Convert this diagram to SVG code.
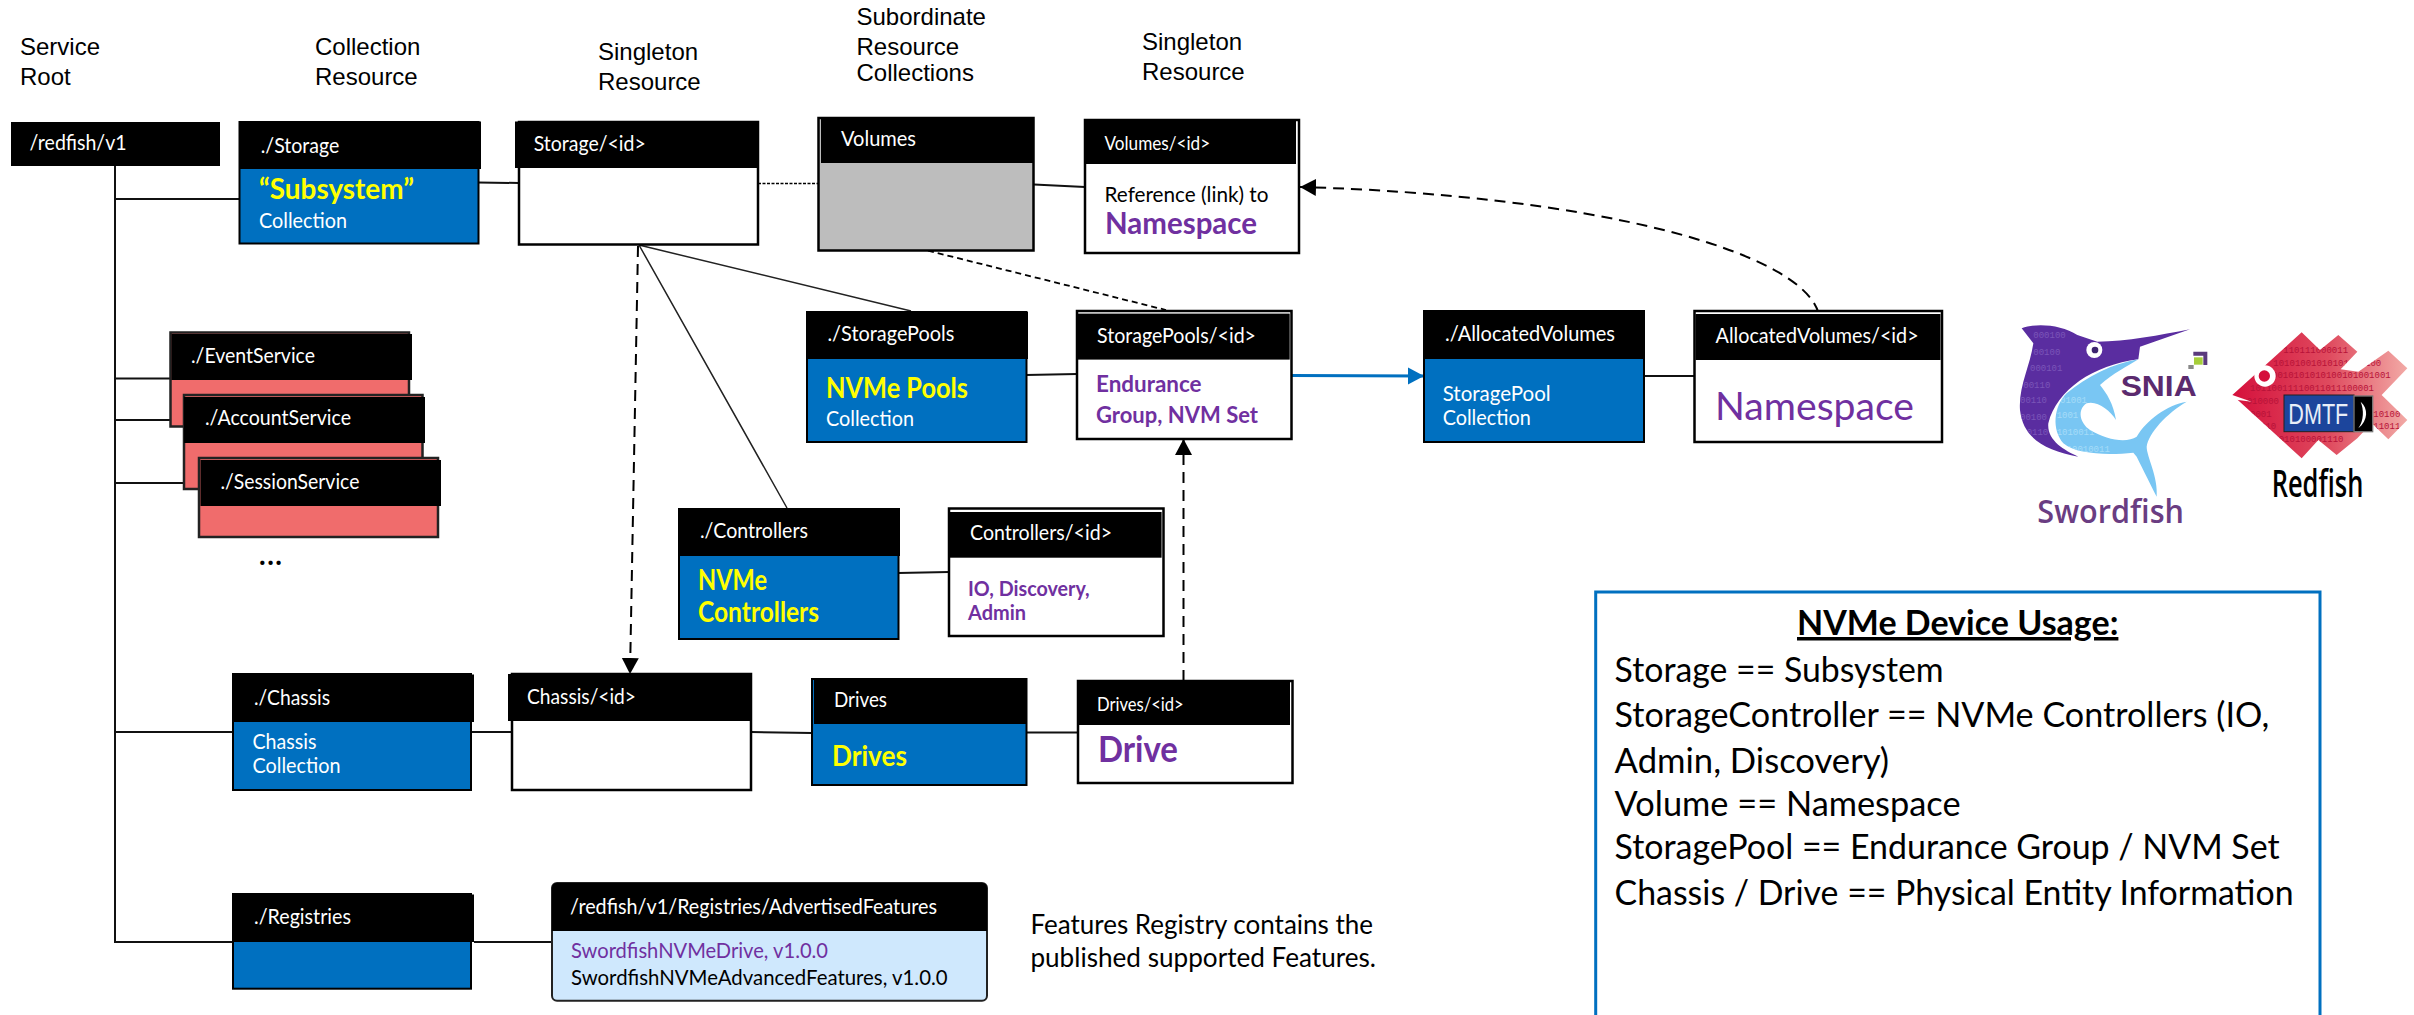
<svg xmlns="http://www.w3.org/2000/svg" width="2414" height="1015" viewBox="0 0 2414 1015">
<style>
text{font-family:"Lato","Carlito","Open Sans",sans-serif;font-size:22px;fill:#fff;white-space:pre}
.h{font-family:"Liberation Sans",Arial,sans-serif;font-size:24px;fill:#000}
.hd{fill:#000}
.blue{fill:#0070c0;stroke:#000;stroke-width:2}
.white{fill:#fff;stroke:#000;stroke-width:2.5}
.red{fill:#f06c6c;stroke:#222;stroke-width:2.5}
.y{fill:#ff0;font-weight:700;font-size:28px}
.p{fill:#7030a0;font-weight:700}
.k{fill:#000}
.u{fill:#000;font-size:35px}
.c{fill:none;stroke:#111;stroke-width:2}
.t{fill:none;stroke:#222;stroke-width:1.5}
.d{fill:none;stroke:#000;stroke-width:2;stroke-dasharray:11 7}
.d2{fill:none;stroke:#000;stroke-width:1.8;stroke-dasharray:6 4}
.d3{fill:none;stroke:#000;stroke-width:1.6;stroke-dasharray:3 1.5}
.dig{font-family:"Liberation Mono",monospace;font-size:27px}
.ds{fill:#7a55b8}
.db{fill:#a5dcf8}
.dr{fill:#b81238}
</style>
<defs>
<marker id="ah" markerUnits="userSpaceOnUse" markerWidth="17" markerHeight="18" refX="16" refY="8.5" orient="auto"><path d="M0,0L16,8.5L0,17Z" fill="#000"/></marker>
<marker id="ab" markerUnits="userSpaceOnUse" markerWidth="17" markerHeight="18" refX="16" refY="8.5" orient="auto"><path d="M0,0L16,8.5L0,17Z" fill="#0070c0"/></marker>
<linearGradient id="rf" x1="0" x2="1" y1="0" y2="0"><stop offset="0" stop-color="#d5103c"/><stop offset=".55" stop-color="#df4a5e"/><stop offset="1" stop-color="#f2aaa6"/></linearGradient>
<clipPath id="rfc"><path d="M697,285L905,97L960,150L1015,105L1072,155L1022,208L1075,215L1165,152L1222,205L1145,285L1222,360L1165,418L1115,370L1072,415L1010,465L955,420L905,475Z"/></clipPath>
<clipPath id="sfc"><path d="M65,85C110,68 185,75 232,105L292,125C380,125 480,105 570,88L420,140L415,178C280,195 170,270 145,370C140,420 190,450 235,470C140,450 70,420 60,330C55,260 90,200 100,130Z"/></clipPath>
<clipPath id="sbc"><path d="M415,178C340,190 260,230 200,280C160,320 155,390 190,430C230,465 330,465 400,458L410,470C430,510 455,560 470,590C475,530 440,470 440,440C445,400 500,340 560,305C500,315 440,360 410,410C380,430 320,420 270,390C240,370 230,330 260,310C290,300 330,330 348,360C340,310 320,280 300,255C340,220 380,200 415,178Z"/></clipPath>
</defs>

<g id="column-labels">
<text class="h" x="20" y="55">Service</text><text class="h" x="20" y="85">Root</text>
<text class="h" x="315" y="55">Collection</text><text class="h" x="315" y="85">Resource</text>
<text class="h" x="598" y="60">Singleton</text><text class="h" x="598" y="90">Resource</text>
<text class="h" x="856.5" y="25">Subordinate</text><text class="h" x="856.5" y="55">Resource</text><text class="h" x="856.5" y="81">Collections</text>
<text class="h" x="1142" y="50">Singleton</text><text class="h" x="1142" y="80">Resource</text>
</g>

<g id="connectors">
<path class="c" d="M115,166V942H233M115,199H239M115,378.500H171M115,420H184M115,483H200M115,732H233"/>
<path class="c" d="M478,182.500L519,183M1034,184.500L1085,187M1026,375L1077,374M1644,376H1694M898,573L949,572M471,732H512M751,732L812,733M1026,732.500H1077M474,942H552"/>
<path class="t" d="M639,245L911,311M639,245L787,508"/>
<path class="d3" d="M758,183.500H818"/>
<path class="d2" d="M928,250.700L1166,310"/>
<path class="d" d="M638,246L630,674" marker-end="url(#ah)"/>
<path class="d" d="M1183.500,681V439" marker-end="url(#ah)"/>
<path class="d" d="M1818.500,313C1800,250 1590,195 1300,187" marker-end="url(#ah)"/>
<path d="M1292,375.500L1424,376" fill="none" stroke="#0070c0" stroke-width="3" marker-end="url(#ab)"/>
</g>

<g id="root"><rect class="hd" x="11" y="122" width="209" height="44"/><text x="29.600" y="150" textLength="97" lengthAdjust="spacingAndGlyphs">/redfish/v1</text></g>

<g id="storage"><rect class="blue" x="239.500" y="122" width="239" height="121.500"/><rect class="hd" x="239" y="121.500" width="242" height="47.500"/>
<text x="260.700" y="153" textLength="78.600" lengthAdjust="spacingAndGlyphs">./Storage</text>
<text class="y" x="259" y="199" textLength="155" lengthAdjust="spacingAndGlyphs">“Subsystem”</text>
<text x="259" y="228" textLength="88" lengthAdjust="spacingAndGlyphs">Collection</text></g>

<g id="storage-id"><rect class="white" x="519" y="122" width="239" height="122.500"/><rect class="hd" x="515" y="121.500" width="243" height="46.500"/>
<text x="533.700" y="151" textLength="112" lengthAdjust="spacingAndGlyphs">Storage/&lt;id&gt;</text></g>

<g id="volumes"><rect x="818.500" y="118" width="215" height="132.500" fill="#bdbdbd" stroke="#000" stroke-width="2.500"/><rect class="hd" x="821" y="117" width="212.500" height="46"/>
<text x="841" y="146" textLength="75" lengthAdjust="spacingAndGlyphs">Volumes</text></g>

<g id="volumes-id"><rect class="white" x="1085" y="120" width="214" height="133"/><rect class="hd" x="1085" y="120.700" width="211" height="43.300"/>
<text x="1104.500" y="150" style="font-size:20px" textLength="105.600" lengthAdjust="spacingAndGlyphs">Volumes/&lt;id&gt;</text>
<text class="k" x="1104.500" y="202" textLength="164" lengthAdjust="spacingAndGlyphs">Reference (link) to</text>
<text class="p" style="font-size:30px" x="1105" y="234" textLength="152" lengthAdjust="spacingAndGlyphs">Namespace</text></g>

<g id="eventservice"><rect class="red" x="170.500" y="332.500" width="238.500" height="94"/><rect class="hd" x="171.500" y="334" width="240.500" height="46"/>
<text x="191" y="362.500" textLength="124" lengthAdjust="spacingAndGlyphs">./EventService</text></g>
<g id="accountservice"><rect class="red" x="184" y="395" width="238.500" height="94"/><rect class="hd" x="184" y="397" width="241" height="46"/>
<text x="205" y="425" textLength="146" lengthAdjust="spacingAndGlyphs">./AccountService</text></g>
<g id="sessionservice"><rect class="red" x="199" y="458" width="239" height="79"/><rect class="hd" x="200.500" y="460" width="240.500" height="46"/>
<text x="220.400" y="489" textLength="139" lengthAdjust="spacingAndGlyphs">./SessionService</text></g>
<text class="k" x="259" y="565" style="font-size:28px;font-weight:700" textLength="23" lengthAdjust="spacing">...</text>

<g id="storagepools"><rect class="blue" x="807" y="312" width="219.500" height="130"/><rect class="hd" x="806.500" y="312" width="221.500" height="47"/>
<text x="827.400" y="341" textLength="127" lengthAdjust="spacingAndGlyphs">./StoragePools</text>
<text class="y" x="826" y="398" textLength="142" lengthAdjust="spacingAndGlyphs">NVMe Pools</text>
<text x="826" y="426" textLength="88" lengthAdjust="spacingAndGlyphs">Collection</text></g>

<g id="storagepools-id"><rect class="white" x="1077" y="311" width="214.500" height="128"/><rect class="hd" x="1077.500" y="313.600" width="212.200" height="46"/>
<text x="1097" y="343" textLength="159" lengthAdjust="spacingAndGlyphs">StoragePools/&lt;id&gt;</text>
<text class="p" x="1096" y="392" textLength="105.600" lengthAdjust="spacingAndGlyphs">Endurance</text>
<text class="p" x="1096" y="422.500" textLength="162" lengthAdjust="spacingAndGlyphs">Group, NVM Set</text></g>

<g id="allocatedvolumes"><rect class="blue" x="1424" y="311" width="220" height="131"/><rect class="hd" x="1424" y="312" width="220.500" height="47"/>
<text x="1445" y="340.700" textLength="170" lengthAdjust="spacingAndGlyphs">./AllocatedVolumes</text>
<text x="1442.700" y="401" textLength="108" lengthAdjust="spacingAndGlyphs">StoragePool</text>
<text x="1442.700" y="425" textLength="88" lengthAdjust="spacingAndGlyphs">Collection</text></g>

<g id="allocatedvolumes-id"><rect class="white" x="1694.500" y="311" width="247.500" height="131"/><rect class="hd" x="1695.500" y="314" width="245" height="46"/>
<text x="1715.600" y="342.700" textLength="203" lengthAdjust="spacingAndGlyphs">AllocatedVolumes/&lt;id&gt;</text>
<text x="1715" y="420" style="font-size:39px;fill:#7030a0" textLength="199" lengthAdjust="spacingAndGlyphs">Namespace</text></g>

<g id="controllers"><rect class="blue" x="679" y="509" width="219.500" height="130"/><rect class="hd" x="678.600" y="508" width="221.400" height="48"/>
<text x="700" y="538" textLength="108" lengthAdjust="spacingAndGlyphs">./Controllers</text>
<text class="y" x="698" y="590" textLength="69" lengthAdjust="spacingAndGlyphs">NVMe</text>
<text class="y" x="698" y="622" textLength="121" lengthAdjust="spacingAndGlyphs">Controllers</text></g>

<g id="controllers-id"><rect class="white" x="949" y="508.500" width="214.500" height="127.500"/><rect class="hd" x="949.400" y="512" width="212.200" height="45.700"/>
<text x="970" y="540" textLength="142" lengthAdjust="spacingAndGlyphs">Controllers/&lt;id&gt;</text>
<text class="p" style="font-size:20px" x="968" y="596" textLength="121.700" lengthAdjust="spacingAndGlyphs">IO, Discovery,</text>
<text class="p" style="font-size:20px" x="968" y="620" textLength="58" lengthAdjust="spacingAndGlyphs">Admin</text></g>

<g id="chassis"><rect class="blue" x="233" y="674" width="238" height="116"/><rect class="hd" x="232.700" y="674.500" width="241.300" height="47.500"/>
<text x="254" y="705" textLength="76" lengthAdjust="spacingAndGlyphs">./Chassis</text>
<text x="252.500" y="749" textLength="64" lengthAdjust="spacingAndGlyphs">Chassis</text>
<text x="252.500" y="773" textLength="88" lengthAdjust="spacingAndGlyphs">Collection</text></g>

<g id="chassis-id"><rect class="white" x="512" y="674" width="239" height="116"/><rect class="hd" x="508" y="674" width="243.500" height="47"/>
<text x="527" y="704" textLength="109" lengthAdjust="spacingAndGlyphs">Chassis/&lt;id&gt;</text></g>

<g id="drives"><rect class="blue" x="812" y="679" width="214.500" height="106"/><rect class="hd" x="814" y="678" width="212.400" height="46"/>
<text x="834" y="706.700" textLength="53" lengthAdjust="spacingAndGlyphs">Drives</text>
<text class="y" x="832" y="765.700" textLength="75" lengthAdjust="spacingAndGlyphs">Drives</text></g>

<g id="drives-id"><rect class="white" x="1078" y="681" width="214.500" height="102"/><rect class="hd" x="1078.600" y="681.700" width="211.400" height="43.300"/>
<text x="1097" y="711" style="font-size:20px" textLength="86.700" lengthAdjust="spacingAndGlyphs">Drives/&lt;id&gt;</text>
<text class="p" style="font-size:37px" x="1098" y="762" textLength="80" lengthAdjust="spacingAndGlyphs">Drive</text></g>

<g id="registries"><rect class="blue" x="233" y="894" width="238" height="94.700"/><rect class="hd" x="232.700" y="894.500" width="241.300" height="47.500"/>
<text x="254" y="924" textLength="97" lengthAdjust="spacingAndGlyphs">./Registries</text></g>

<g id="advertisedfeatures"><rect x="552" y="883" width="435" height="117.700" rx="5" fill="#cfe8fd" stroke="#222" stroke-width="2"/><path d="M552,931V888Q552,883 557,883H982Q987,883 987,888V931Z" fill="#000"/>
<text x="570" y="914" textLength="367" lengthAdjust="spacingAndGlyphs">/redfish/v1/Registries/AdvertisedFeatures</text>
<text x="571" y="958" style="fill:#7030a0" textLength="257" lengthAdjust="spacingAndGlyphs">SwordfishNVMeDrive, v1.0.0</text>
<text class="k" x="571" y="985" textLength="376.600" lengthAdjust="spacingAndGlyphs">SwordfishNVMeAdvancedFeatures, v1.0.0</text></g>

<g id="features-note">
<text class="k" style="font-size:26px" x="1030.400" y="934" textLength="342.700" lengthAdjust="spacingAndGlyphs">Features Registry contains the</text>
<text class="k" style="font-size:26px" x="1030.400" y="966.700" textLength="345.600" lengthAdjust="spacingAndGlyphs">published supported Features.</text></g>

<g id="usage">
<rect x="1595.700" y="592" width="724.300" height="440" fill="#fff" stroke="#0070c0" stroke-width="3"/>
<text class="u" x="1797" y="635" style="font-weight:700;text-decoration:underline" textLength="321.400" lengthAdjust="spacingAndGlyphs">NVMe Device Usage:</text>
<text class="u" x="1614.600" y="681.700" textLength="329" lengthAdjust="spacingAndGlyphs">Storage == Subsystem</text>
<text class="u" x="1614.600" y="726.700" textLength="654.600" lengthAdjust="spacingAndGlyphs">StorageController == NVMe Controllers (IO,</text>
<text class="u" x="1614.600" y="772.700" textLength="274.500" lengthAdjust="spacingAndGlyphs">Admin, Discovery)</text>
<text class="u" x="1614.600" y="816" textLength="346" lengthAdjust="spacingAndGlyphs">Volume == Namespace</text>
<text class="u" x="1614.600" y="859" textLength="665" lengthAdjust="spacingAndGlyphs">StoragePool == Endurance Group / NVM Set</text>
<text class="u" x="1614.600" y="905" textLength="679" lengthAdjust="spacingAndGlyphs">Chassis / Drive == Physical Entity Information</text>
</g>

<g id="swordfish-logo" transform="translate(2000,300) scale(.33333)">
<path d="M65,85C110,68 185,75 232,105L292,125C380,125 480,105 570,88L420,140L415,178C280,195 170,270 145,370C140,420 190,450 235,470C140,450 70,420 60,330C55,260 90,200 100,130Z" fill="#5a2da0"/>
<path d="M415,178C340,190 260,230 200,280C160,320 155,390 190,430C230,465 330,465 400,458L410,470C430,510 455,560 470,590C475,530 440,470 440,440C445,400 500,340 560,305C500,315 440,360 410,410C380,430 320,420 270,390C240,370 230,330 260,310C290,300 330,330 348,360C340,310 320,280 300,255C340,220 380,200 415,178Z" fill="#79c6f3"/>
<g clip-path="url(#sfc)"><text class="dig ds" x="100" y="115">000100</text><text class="dig ds" x="100" y="165">00100</text><text class="dig ds" x="90" y="212">000101</text><text class="dig ds" x="70" y="265">00110</text><text class="dig ds" x="60" y="310">00110</text><text class="dig ds" x="60" y="360">00100</text><text class="dig ds" x="80" y="405">0110</text></g>
<g clip-path="url(#sbc)"><text class="dig db" x="180" y="310">01001</text><text class="dig db" x="170" y="355">1001</text><text class="dig db" x="170" y="405">1010011</text><text class="dig db" x="200" y="455">10010011</text></g>
<circle cx="283" cy="150" r="24" fill="#fff"/><circle cx="285" cy="150" r="10" fill="#3d2470"/>
<path d="M580,155H622V195H610V167H580Z" fill="#5a3a7c"/><rect x="582" y="172" width="26" height="22" fill="#a6ce39"/><rect x="565" y="195" width="16" height="12" fill="#888"/>
<text x="362" y="288" style="font-family:'Liberation Sans',sans-serif;font-size:88px;font-weight:700;fill:#5b2a6e" textLength="228" lengthAdjust="spacingAndGlyphs">SNIA</text>
<text x="112" y="668" style="font-family:'Open Sans',sans-serif;font-size:100px;font-weight:600;fill:#6a3d82" textLength="440" lengthAdjust="spacingAndGlyphs">Swordfish</text>
</g>

<g id="redfish-logo" transform="translate(2000,300) scale(.33333)">
<path d="M697,285L905,97L960,150L1015,105L1072,155L1022,208L1075,215L1165,152L1222,205L1145,285L1222,360L1165,418L1115,370L1072,415L1010,465L955,420L905,475Z" fill="url(#rf)"/>
<g clip-path="url(#rfc)">
<text class="dig dr" x="850" y="160">110111000011</text>
<text class="dig dr" x="820" y="197">10101001010101010100</text>
<text class="dig dr" x="800" y="235">00010101010100101001001</text>
<text class="dig dr" x="750" y="272">10110011110011011100001</text>
<text class="dig dr" x="740" y="312">010000</text>
<text class="dig dr" x="750" y="350">0001</text><text class="dig dr" x="1120" y="350">10100</text>
<text class="dig dr" x="780" y="388">010</text><text class="dig dr" x="1120" y="388">11011</text>
<text class="dig dr" x="820" y="425">0010100001110</text>
</g>
<path d="M697,285L755,305L697,298Z" fill="#fff"/>
<circle cx="795" cy="228" r="32" fill="#fff"/><circle cx="793" cy="228" r="17" fill="#d5103c"/>
<rect x="852" y="285" width="210" height="110" fill="#1c459c" stroke="#222" stroke-width="3"/>
<rect x="1062" y="288" width="56" height="107" fill="#000" stroke="#777" stroke-width="4"/>
<path d="M1082,305C1105,325 1105,360 1075,385C1092,360 1092,330 1082,305Z" fill="#fff"/>
<text x="865" y="372" style="font-family:'Liberation Sans',sans-serif;font-size:88px;fill:#e8eef8" textLength="180" lengthAdjust="spacingAndGlyphs">DMTF</text>
<text class="k" x="815" y="590" style="font-family:'Open Sans',sans-serif;font-weight:600;font-size:112px" textLength="275" lengthAdjust="spacingAndGlyphs">Redfish</text>
</g>
</svg>
